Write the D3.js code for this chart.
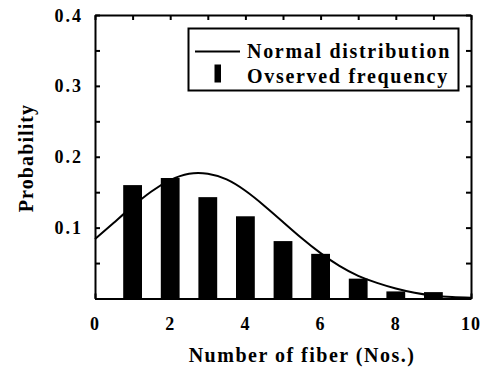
<!DOCTYPE html>
<html>
<head>
<meta charset="utf-8">
<script src="https://cdn.jsdelivr.net/npm/d3@7"></script>
<style>
  body { margin: 0; background: #fff; }
  text { font-family: "Liberation Serif", "Times New Roman", serif; font-weight: bold; fill: #000; }
</style>
</head>
<body>
<svg id="chart" width="489" height="376"></svg>
<script>
// observed frequency (bars)
const fiberCounts = [1, 2, 3, 4, 5, 6, 7, 8, 9];
const observedFreq = [0.160, 0.170, 0.143, 0.116, 0.081, 0.063, 0.028, 0.010, 0.009];

// normal distribution curve
const curveX = [0, 0.5, 1, 1.5, 2, 2.5, 3, 3.5, 4, 4.5, 5, 5.5, 6, 6.5, 7, 7.5, 8, 8.5, 9, 9.5, 10];
const curveY = [0.084, 0.107, 0.130, 0.151, 0.167, 0.176, 0.176, 0.168, 0.152, 0.131, 0.108, 0.085, 0.064, 0.046, 0.032, 0.022, 0.014, 0.008, 0.004, 0.002, 0.001];

const xTickLabels = [0, 2, 4, 6, 8, 10];
const yTickLabels = [0.1, 0.2, 0.3, 0.4];

const svg = d3.select("#chart");
const plotLeft = 95, plotRight = 471, plotTop = 15, plotBottom = 298.5;

const x = d3.scaleLinear().domain([0, 10]).range([plotLeft, plotRight]);
const y = d3.scaleLinear().domain([0, 0.4]).range([plotBottom, plotTop]);

// bars
const barW = x(0.5) - x(0);
svg.append("g")
  .selectAll("rect")
  .data(fiberCounts)
  .enter().append("rect")
  .attr("x", (d, i) => x(d) - barW / 2)
  .attr("y", (d, i) => y(observedFreq[i]))
  .attr("width", barW)
  .attr("height", (d, i) => plotBottom - y(observedFreq[i]))
  .attr("fill", "#000");

// curve
const line = d3.line()
  .x(d => x(d[0]))
  .y(d => y(d[1]))
  .curve(d3.curveNatural);
svg.append("path")
  .datum(curveX.map((v, i) => [v, curveY[i]]))
  .attr("d", line)
  .attr("fill", "none")
  .attr("stroke", "#000")
  .attr("stroke-width", 2);

// axes: inward ticks, no labels on the d3 axes
const tickLen = 5;
const bottomAxis = d3.axisBottom(x).tickValues(d3.range(0, 11, 1)).tickSizeInner(-tickLen).tickSizeOuter(0).tickFormat("");
const topAxis = d3.axisTop(x).tickValues(d3.range(0, 11, 1)).tickSizeInner(-tickLen).tickSizeOuter(0).tickFormat("");
const leftAxis = d3.axisLeft(y).tickValues(d3.range(0, 0.41, 0.05)).tickSizeInner(-tickLen).tickSizeOuter(0).tickFormat("");
const rightAxis = d3.axisRight(y).tickValues(d3.range(0, 0.41, 0.05)).tickSizeInner(-tickLen).tickSizeOuter(0).tickFormat("");

function styleAxis(g) {
  g.select(".domain").attr("stroke-width", 2);
  g.selectAll(".tick line").attr("stroke-width", 2);
}
svg.append("g").attr("transform", `translate(0,${plotBottom})`).call(bottomAxis).call(styleAxis);
svg.append("g").attr("transform", `translate(0,${plotTop})`).call(topAxis).call(styleAxis);
svg.append("g").attr("transform", `translate(${plotLeft},0)`).call(leftAxis).call(styleAxis);
svg.append("g").attr("transform", `translate(${plotRight},0)`).call(rightAxis).call(styleAxis);

// tick labels
svg.append("g")
  .selectAll("text")
  .data(xTickLabels)
  .enter().append("text")
  .attr("x", d => x(d))
  .attr("y", 330)
  .attr("text-anchor", "middle")
  .attr("font-size", 18)
  .attr("letter-spacing", 1)
  .text(d => d);

svg.append("g")
  .selectAll("text")
  .data(yTickLabels)
  .enter().append("text")
  .attr("x", 83)
  .attr("y", d => y(d) + 6.5)
  .attr("text-anchor", "end")
  .attr("font-size", 18)
  .attr("letter-spacing", 2)
  .text(d => d.toFixed(1));

// axis titles
svg.append("text")
  .attr("x", 302)
  .attr("y", 362)
  .attr("text-anchor", "middle")
  .attr("font-size", 20)
  .attr("letter-spacing", 1.5)
  .text("Number of fiber (Nos.)");

svg.append("text")
  .attr("transform", "translate(33,158) rotate(-90)")
  .attr("text-anchor", "middle")
  .attr("font-size", 20)
  .attr("letter-spacing", 1.1)
  .text("Probability");

// legend
const legend = svg.append("g");
legend.append("rect")
  .attr("x", 188.5).attr("y", 28.5)
  .attr("width", 270).attr("height", 62)
  .attr("fill", "#fff")
  .attr("stroke", "#000")
  .attr("stroke-width", 2);
legend.append("line")
  .attr("x1", 195).attr("x2", 240)
  .attr("y1", 51.5).attr("y2", 51.5)
  .attr("stroke", "#000")
  .attr("stroke-width", 2);
legend.append("rect")
  .attr("x", 214.5).attr("y", 64.5)
  .attr("width", 6.5).attr("height", 18)
  .attr("fill", "#000");
legend.append("text")
  .attr("x", 247).attr("y", 58)
  .attr("font-size", 20)
  .attr("letter-spacing", 1.7)
  .text("Normal distribution");
legend.append("text")
  .attr("x", 247).attr("y", 83)
  .attr("font-size", 20)
  .attr("letter-spacing", 1.7)
  .text("Ovserved frequency");
</script>
</body>
</html>
